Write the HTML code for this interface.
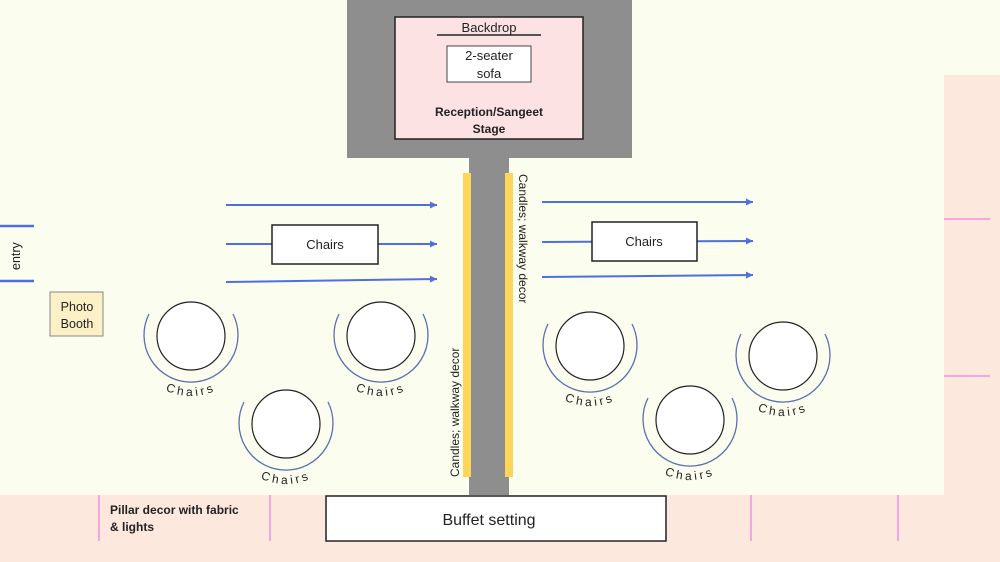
<!DOCTYPE html>
<html><head><meta charset="utf-8"><style>
html,body{margin:0;padding:0}
body{width:1000px;height:562px;overflow:hidden;background:#fbfdee;font-family:"Liberation Sans",sans-serif}
</style></head><body>
<svg width="1000" height="562" viewBox="0 0 1000 562" xmlns="http://www.w3.org/2000/svg" font-family="Liberation Sans, sans-serif" style="display:block">
<defs>
<marker id="ah" markerWidth="8" markerHeight="8" refX="7" refY="4" orient="auto" markerUnits="userSpaceOnUse"><path d="M0,0.5 L7,4 L0,7.5 z" fill="#4f6fe0"/></marker>
</defs>
<rect width="1000" height="562" fill="#fbfdee"/>
<rect x="944" y="75" width="56" height="487" fill="#fde8de"/>
<rect x="0" y="495" width="1000" height="67" fill="#fde8de"/>
<line x1="944" y1="219" x2="990" y2="219" stroke="#f4a6e0" stroke-width="2"/>
<line x1="944" y1="376" x2="990" y2="376" stroke="#f4a6e0" stroke-width="2"/>
<g stroke="#f4a6e0" stroke-width="2">
<line x1="99" y1="495" x2="99" y2="541"/><line x1="270" y1="495" x2="270" y2="541"/>
<line x1="751" y1="495" x2="751" y2="541"/><line x1="898" y1="495" x2="898" y2="541"/>
</g>
<rect x="347" y="0" width="285" height="158" fill="#8e8e8e"/>
<rect x="395" y="17" width="188" height="122" fill="#fde2e4" stroke="#222" stroke-width="1.5"/>
<text x="489" y="32" font-size="13" text-anchor="middle" fill="#222">Backdrop</text>
<line x1="437" y1="35" x2="541" y2="35" stroke="#222" stroke-width="1.5"/>
<rect x="447" y="46" width="84" height="36" fill="#fff" stroke="#444" stroke-width="1"/>
<text x="489" y="60" font-size="13" text-anchor="middle" fill="#222">2-seater</text>
<text x="489" y="78" font-size="13" text-anchor="middle" fill="#222">sofa</text>
<text x="489" y="116" font-size="12" font-weight="bold" text-anchor="middle" fill="#222">Reception/Sangeet</text>
<text x="489" y="133" font-size="12" font-weight="bold" text-anchor="middle" fill="#222">Stage</text>
<rect x="469" y="158" width="40" height="337" fill="#8e8e8e"/>
<rect x="463" y="173" width="8" height="304" fill="#fcd55a"/>
<rect x="505" y="173" width="8" height="304" fill="#fcd55a"/>
<text transform="translate(459,477) rotate(-90)" font-size="12" fill="#222">Candles; walkway decor</text>
<text transform="translate(519,174) rotate(90)" font-size="12" fill="#222">Candles; walkway decor</text>
<g stroke="#4f6fe0" stroke-width="2" marker-end="url(#ah)">
<line x1="226" y1="205" x2="437" y2="205"/><line x1="226" y1="244" x2="437" y2="244"/><line x1="226" y1="282" x2="437" y2="279"/>
<line x1="542" y1="202" x2="753" y2="202"/><line x1="542" y1="242" x2="753" y2="241"/><line x1="542" y1="277" x2="753" y2="275"/>
</g>
<rect x="272" y="225" width="106" height="39" fill="#fff" stroke="#222" stroke-width="1.5"/>
<text x="325" y="249" font-size="13" text-anchor="middle" fill="#222">Chairs</text>
<rect x="592" y="222" width="105" height="39" fill="#fff" stroke="#222" stroke-width="1.5"/>
<text x="644" y="246" font-size="13" text-anchor="middle" fill="#222">Chairs</text>
<line x1="0" y1="226" x2="34" y2="226" stroke="#4f6fe0" stroke-width="2.5"/>
<line x1="0" y1="281" x2="34" y2="281" stroke="#4f6fe0" stroke-width="2.5"/>
<text transform="translate(20,270) rotate(-90)" font-size="12.5" fill="#222">entry</text>
<rect x="50" y="292" width="53" height="44" fill="#fcf0c6" stroke="#888" stroke-width="1"/>
<text x="77" y="311" font-size="12.5" text-anchor="middle" fill="#222">Photo</text>
<text x="77" y="328" font-size="12.5" text-anchor="middle" fill="#222">Booth</text>
<g font-size="12" fill="#222" letter-spacing="3">
<g transform="translate(191,336)">
<path d="M-42,-22 A47,47 0 1 0 42,-22" fill="none" stroke="#5a6fb0" stroke-width="1.3"/>
<circle r="34" fill="#fff" stroke="#222" stroke-width="1.2"/>
<path id="p1" d="M-55,24 A60,60 0 0 0 55,24" fill="none"/>
<text><textPath href="#p1" startOffset="50%" text-anchor="middle">Chairs</textPath></text>
</g>
<g transform="translate(381,336)">
<path d="M-42,-22 A47,47 0 1 0 42,-22" fill="none" stroke="#5a6fb0" stroke-width="1.3"/>
<circle r="34" fill="#fff" stroke="#222" stroke-width="1.2"/>
<path id="p2" d="M-55,24 A60,60 0 0 0 55,24" fill="none"/>
<text><textPath href="#p2" startOffset="50%" text-anchor="middle">Chairs</textPath></text>
</g>
<g transform="translate(286,424)">
<path d="M-42,-22 A47,47 0 1 0 42,-22" fill="none" stroke="#5a6fb0" stroke-width="1.3"/>
<circle r="34" fill="#fff" stroke="#222" stroke-width="1.2"/>
<path id="p3" d="M-55,24 A60,60 0 0 0 55,24" fill="none"/>
<text><textPath href="#p3" startOffset="50%" text-anchor="middle">Chairs</textPath></text>
</g>
<g transform="translate(590,346)">
<path d="M-42,-22 A47,47 0 1 0 42,-22" fill="none" stroke="#5a6fb0" stroke-width="1.3"/>
<circle r="34" fill="#fff" stroke="#222" stroke-width="1.2"/>
<path id="p4" d="M-55,24 A60,60 0 0 0 55,24" fill="none"/>
<text><textPath href="#p4" startOffset="50%" text-anchor="middle">Chairs</textPath></text>
</g>
<g transform="translate(690,420)">
<path d="M-42,-22 A47,47 0 1 0 42,-22" fill="none" stroke="#5a6fb0" stroke-width="1.3"/>
<circle r="34" fill="#fff" stroke="#222" stroke-width="1.2"/>
<path id="p5" d="M-55,24 A60,60 0 0 0 55,24" fill="none"/>
<text><textPath href="#p5" startOffset="50%" text-anchor="middle">Chairs</textPath></text>
</g>
<g transform="translate(783,356)">
<path d="M-42,-22 A47,47 0 1 0 42,-22" fill="none" stroke="#5a6fb0" stroke-width="1.3"/>
<circle r="34" fill="#fff" stroke="#222" stroke-width="1.2"/>
<path id="p6" d="M-55,24 A60,60 0 0 0 55,24" fill="none"/>
<text><textPath href="#p6" startOffset="50%" text-anchor="middle">Chairs</textPath></text>
</g>
</g>
<rect x="326" y="496" width="340" height="45" fill="#fff" stroke="#222" stroke-width="1.5"/>
<text x="489" y="525" font-size="16" text-anchor="middle" fill="#222">Buffet setting</text>
<text x="110" y="514" font-size="12" font-weight="bold" fill="#222">Pillar decor with fabric</text>
<text x="110" y="531" font-size="12" font-weight="bold" fill="#222">&amp; lights</text>
</svg>
</body></html>
